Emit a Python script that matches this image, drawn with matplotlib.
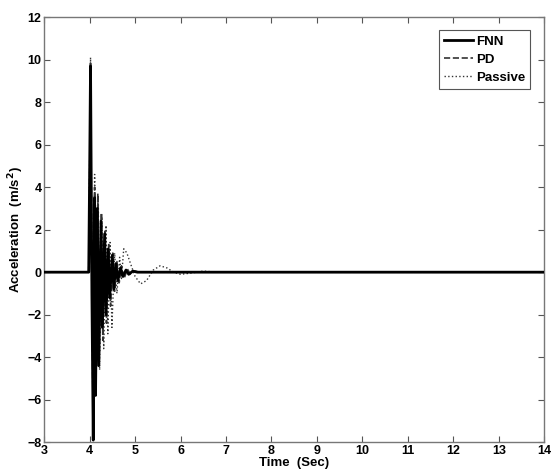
import matplotlib
matplotlib.use("Agg")
import matplotlib.pyplot as plt

# vertices of each response (time in s, acceleration in m/s^2)
fnn_t = [3.0, 3.98, 4.0, 4.02, 4.05, 4.08, 4.11, 4.13, 4.17, 4.2, 4.25, 4.28, 4.33, 4.36,
         4.41, 4.44, 4.5, 4.53, 4.58, 4.62, 4.68, 4.73, 4.8, 4.86, 4.95, 5.05, 14.0]
fnn_a = [0, 0, 4.6, 9.7, -1.0, -7.9, 3.5, -5.8, 3.0, -4.4, 2.4, -2.6, 1.8, -2.0,
         1.1, -1.2, 0.8, -0.8, 0.4, -0.4, 0.2, -0.2, 0.1, -0.1, 0.05, 0, 0]

pd_t = [3.0, 3.98, 4.0, 4.02, 4.05, 4.08, 4.11, 4.14, 4.18, 4.21, 4.26, 4.29, 4.34, 4.37,
        4.42, 4.46, 4.51, 4.55, 4.6, 4.65, 4.7, 4.76, 4.83, 4.9, 5.0, 5.1, 14.0]
pd_a = [0, 0, 4.0, 9.9, -1.0, -7.5, 4.0, -5.0, 3.7, -4.2, 2.8, -3.2, 2.0, -2.4,
        1.3, -1.6, 0.9, -0.9, 0.5, -0.5, 0.3, -0.3, 0.15, -0.1, 0.05, 0, 0]

passive_t = [3.0, 3.98, 4.0, 4.02, 4.05, 4.08, 4.11, 4.14, 4.19, 4.22, 4.27, 4.31, 4.36, 4.4,
             4.45, 4.49, 4.55, 4.6, 4.66, 4.7, 4.75, 4.82, 4.9, 5.0, 5.12, 5.25, 5.4, 5.55,
             5.7, 5.85, 6.0, 6.2, 6.5, 6.8, 7.5, 8.0, 14.0]
passive_a = [0, 0, 5.0, 10.1, -1.0, -7.0, 4.6, -5.2, 3.6, -4.6, 2.6, -3.6, 2.2, -2.9,
             1.4, -2.6, 0.9, -1.0, 0.7, -0.3, 1.1, 0.9, 0.4, -0.2, -0.55, -0.4, 0.1, 0.3,
             0.2, 0.0, -0.1, -0.05, 0.05, 0.0, 0.02, 0, 0]

x_ticks = list(range(3, 15))
y_ticks = list(range(-8, 13, 2))

plt.rcParams['font.family'] = ['Liberation Sans Narrow', 'Liberation Sans', 'DejaVu Sans']
plt.rcParams['font.weight'] = 'bold'

fig = plt.figure(figsize=(5.52, 4.76), dpi=100)
ax = fig.add_axes([0.08, 0.071, 0.906, 0.893])

ax.plot(passive_t, passive_a, color='#333333', linestyle=':', linewidth=1.0, label='Passive', zorder=2)
ax.plot(pd_t, pd_a, color='#333333', linestyle='--', linewidth=1.2, label='PD', zorder=3)
ax.plot(fnn_t, fnn_a, color='black', linestyle='-', linewidth=2.0, label='FNN', zorder=4)

ax.set_xlim(3, 14)
ax.set_ylim(-8, 12)
ax.set_xticks(x_ticks)
ax.set_yticks(y_ticks)
ax.tick_params(direction='in', top=True, right=True, labelsize=9, length=4, pad=2, color='#555555')
for s in ax.spines.values():
    s.set_color('#777777')
    s.set_linewidth(1.0)

ax.set_xlabel('Time  (Sec)', fontsize=9.5, fontweight='bold', labelpad=0)
ax.set_ylabel('Acceleration  (m/s$^{\\mathbf{2}}$)', fontsize=9.5, fontweight='bold', labelpad=1)

handles, labels = ax.get_legend_handles_labels()
order = [2, 1, 0]
leg = ax.legend([handles[i] for i in order], [labels[i] for i in order], loc='upper right',
                fontsize=9.5, fancybox=False, edgecolor='#555555', framealpha=1,
                handlelength=2.2, handletextpad=0.2, borderpad=0.4, labelspacing=0.45,
                bbox_to_anchor=(0.985, 0.985))
leg.get_frame().set_linewidth(0.8)

fig.savefig('out.png', dpi=100)
